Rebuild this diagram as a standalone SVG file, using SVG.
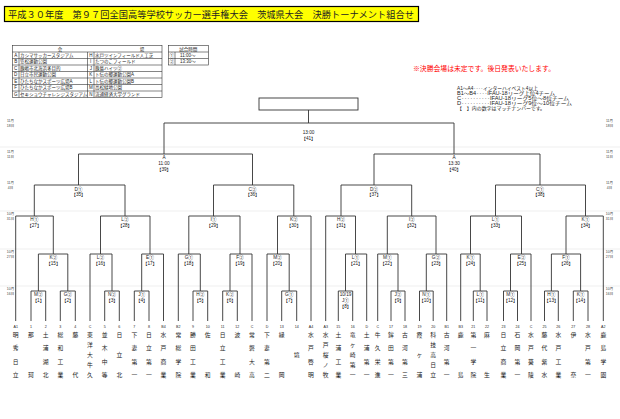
<svg xmlns="http://www.w3.org/2000/svg" width="620" height="419" viewBox="0 0 620 419">
<style>
text{font-family:'Liberation Sans','Noto Sans CJK JP',sans-serif;fill:#222}
.ln{stroke:#333;stroke-width:0.9;fill:none}
.grid{stroke:#e4e4e4;stroke-width:0.6}
.tb{stroke:#333;stroke-width:0.6;fill:none}
.lbl{font-size:4.7px;text-anchor:middle}
.date{font-size:3.5px;text-anchor:middle;fill:#444}
.code{font-size:3.6px;text-anchor:middle}
.nm{font-family:'Noto Sans CJK JP',sans-serif;font-size:5.8px;text-anchor:middle}
.tt{font-size:4.5px}
.tc{font-size:4.5px;text-anchor:middle}
.note{font-size:4.8px}
</style>

<g id="title">
<rect x="4.5" y="6.5" width="414" height="15" fill="#ffff00" stroke="#000" stroke-width="1.2"/>
<text x="8" y="17.6" font-size="9.3" textLength="406" lengthAdjust="spacingAndGlyphs" style="font-family:'Liberation Serif','Noto Sans CJK JP',serif">平成３０年度　第９７回全国高等学校サッカー選手権大会　茨城県大会　決勝トーナメント組合せ</text>
</g>

<g id="venue-table">
<rect class="tb" x="12.3" y="45.5" width="149.7" height="52"/>
<path class="tb" d="M12.3 52H162M12.3 58.5H162M12.3 65H162M12.3 71.5H162M12.3 78H162M12.3 84.5H162M12.3 91H162M19 52V97.5M87.5 52V97.5M94 52V97.5"/>
<text class="tc" x="60" y="50.6">会</text>
<text class="tc" x="142" y="50.6">場</text>
<text class="tc" x="15.65" y="56.9">A</text><text class="tt" x="20" y="56.9">カシマサッカースタジアム</text>
<text class="tc" x="15.65" y="63.4">B</text><text class="tt" x="20" y="63.4">笠松運動公園</text>
<text class="tc" x="15.65" y="69.9">C</text><text class="tt" x="20" y="69.9">鹿嶋市北海浜多目的</text>
<text class="tc" x="15.65" y="76.4">D</text><text class="tt" x="20" y="76.4">日立市民運動公園</text>
<text class="tc" x="15.65" y="82.9">E</text><text class="tt" x="20" y="82.9">ひたちなかスポーツ広場A</text>
<text class="tc" x="15.65" y="89.4">F</text><text class="tt" x="20" y="89.4">ひたちなかスポーツ広場B</text>
<text class="tc" x="15.65" y="95.9">G</text><text class="tt" x="20" y="95.9">セキショウチャレンジスタジアム</text>
<text class="tc" x="90.75" y="56.9">H</text><text class="tt" x="95" y="56.9">水戸ツインフィールド人工芝</text>
<text class="tc" x="90.75" y="63.4">I</text><text class="tt" x="95" y="63.4">たつのこフィールド</text>
<text class="tc" x="90.75" y="69.9">J</text><text class="tt" x="95" y="69.9">鹿島ハイツ②</text>
<text class="tc" x="90.75" y="76.4">K</text><text class="tt" x="95" y="76.4">卜伝の郷運動公園A</text>
<text class="tc" x="90.75" y="82.9">L</text><text class="tt" x="95" y="82.9">卜伝の郷運動公園B</text>
<text class="tc" x="90.75" y="89.4">M</text><text class="tt" x="95" y="89.4">高松緑地公園</text>
<text class="tc" x="90.75" y="95.9">N</text><text class="tt" x="95" y="95.9">流通経済大学グランド</text>
</g>

<g id="time-table">
<rect class="tb" x="168.3" y="45.5" width="40" height="19.5"/>
<path class="tb" d="M168.3 52H208.3M168.3 58.5H208.3M175 52V65"/>
<text class="tc" x="188.3" y="50.6">試合時間</text>
<text class="tc" x="171.65" y="56.9">①</text><text class="tt" x="180" y="56.9">11:00～</text>
<text class="tc" x="171.65" y="63.4">②</text><text class="tt" x="180" y="63.4">13:30～</text>
</g>

<g id="notes">
<text x="413" y="71.3" font-size="6.8" style="fill:#ff0000" textLength="142" lengthAdjust="spacingAndGlyphs">※決勝会場は未定です。後日発表いたします。</text>
<text class="note" x="457" y="90" textLength="81" lengthAdjust="spacingAndGlyphs">A1～A4‥‥インターハイベスト4以上</text>
<text class="note" x="457" y="95" textLength="98" lengthAdjust="spacingAndGlyphs">B1～B4‥‥IFAU-18リーグ上位4チーム</text>
<text class="note" x="457" y="100" textLength="112" lengthAdjust="spacingAndGlyphs">C‥‥‥‥‥IFAU-18リーグ5位～8位チーム</text>
<text class="note" x="457" y="105" textLength="115" lengthAdjust="spacingAndGlyphs">D‥‥‥‥‥IFAU-18リーグ9位～10位チーム</text>
<text class="note" x="457" y="110" textLength="88" lengthAdjust="spacingAndGlyphs">【　】内の数字はマッチナンバーです。</text>
</g>

<g id="round-grid">
<path class="grid" d="M0 147H620M0 211H620M0 249H620M0 286H620"/>
</g>

<g id="dates">
<text class="date" x="10.5" y="122">11月</text><text class="date" x="10.5" y="127">18日</text>
<text class="date" x="10.5" y="153">11月</text><text class="date" x="10.5" y="158">11日</text>
<text class="date" x="10.5" y="184">11月</text><text class="date" x="10.5" y="189">4日</text>
<text class="date" x="10.5" y="215">10月</text><text class="date" x="10.5" y="220">31日</text>
<text class="date" x="10.5" y="253">10月</text><text class="date" x="10.5" y="258">27日</text>
<text class="date" x="10.5" y="290">10月</text><text class="date" x="10.5" y="295">16日</text>
<text class="date" x="609.5" y="122">11月</text><text class="date" x="609.5" y="127">18日</text>
<text class="date" x="609.5" y="153">11月</text><text class="date" x="609.5" y="158">11日</text>
<text class="date" x="609.5" y="184">11月</text><text class="date" x="609.5" y="189">4日</text>
<text class="date" x="609.5" y="215">10月</text><text class="date" x="609.5" y="220">31日</text>
<text class="date" x="609.5" y="253">10月</text><text class="date" x="609.5" y="258">27日</text>
<text class="date" x="609.5" y="290">10月</text><text class="date" x="609.5" y="295">16日</text>
</g>

<g id="connectors">
<rect class="ln" x="259" y="98" width="99" height="12" style="fill:#fff"/>
<path class="ln" d="M31 321V291H45.7V321M60.3 321V291H75.3V321M104.7 321V291H119.3V321M134.3 321V291H149V321M193 321V291H207.7V321M222.7 321V291H237.3V321M281.7 321V291H296.7V321M338.3 321V291H352.7V321M391 321V291H405V321M419.5 321V291H433.2V321M473.3 321V291H487V321M503.5 321V291H517.5V321M544.5 321V291H558.3V321M573.3 321V291H588V321"/>
<path class="ln" d="M38.4 291V254H67.8V291M90 321V254H112V291M141.7 291V254H163.5V321M178.3 321V254H200.3V291M230 291V254H252V321M267 321V254H289.2V291M345.5 291V254H366.7V321M377.7 321V254H398V291M426.3 291V254H446.7V321M460.7 321V254H480.2V291M510.5 291V254H531V321M551.4 291V254H580.6V291"/>
<path class="ln" d="M15.7 321V216H53.3V254M100.5 254V216H150V254M188.8 254V216H240V254M277.5 254V216H311V321M325.7 321V216H355.5V254M387.3 254V216H436V254M470.5 254V216H521.5V254M566 254V216H603.3V321"/>
<path class="ln" d="M34.3 216V185H125V216M213.5 216V185H293.8V216M341 216V185H411.7V216M495.5 216V185H585.5V216"/>
<path class="ln" d="M78.5 185V154H252.5V185M374 185V154H540V185"/>
<path class="ln" d="M164 154V123H454V154M308.5 123V110"/>
</g>

<g id="m1" class="lbl"><text x="38.4" y="296.2">M②</text><text x="38.4" y="302.3">【1】</text></g>
<g id="m2" class="lbl"><text x="67.8" y="296.2">G②</text><text x="67.8" y="302.3">【2】</text></g>
<g id="m3" class="lbl"><text x="112" y="296.2">N②</text><text x="112" y="302.3">【3】</text></g>
<g id="m4" class="lbl"><text x="141.7" y="296.2">J①</text><text x="141.7" y="302.3">【4】</text></g>
<g id="m5" class="lbl"><text x="200.3" y="296.2">H②</text><text x="200.3" y="302.3">【5】</text></g>
<g id="m6" class="lbl"><text x="230" y="296.2">K②</text><text x="230" y="302.3">【6】</text></g>
<g id="m7" class="lbl"><text x="289.2" y="296.2">G①</text><text x="289.2" y="302.3">【7】</text></g>
<g id="m8" class="lbl"><text x="345.5" y="296">10/19</text><text x="345.5" y="301.5">J①</text><text x="345.5" y="308">【8】</text></g>
<g id="m9" class="lbl"><text x="398" y="296.2">J②</text><text x="398" y="302.3">【9】</text></g>
<g id="m10" class="lbl"><text x="426.3" y="296.2">N①</text><text x="426.3" y="302.3">【10】</text></g>
<g id="m11" class="lbl"><text x="480.2" y="296.2">L①</text><text x="480.2" y="302.3">【11】</text></g>
<g id="m12" class="lbl"><text x="510.5" y="296.2">M①</text><text x="510.5" y="302.3">【12】</text></g>
<g id="m13" class="lbl"><text x="551.4" y="296.2">H①</text><text x="551.4" y="302.3">【13】</text></g>
<g id="m14" class="lbl"><text x="580.6" y="296.2">K①</text><text x="580.6" y="302.3">【14】</text></g>

<g id="m15" class="lbl"><text x="53.3" y="259.2">K②</text><text x="53.3" y="265.3">【15】</text></g>
<g id="m16" class="lbl"><text x="100.5" y="259.2">L②</text><text x="100.5" y="265.3">【16】</text></g>
<g id="m17" class="lbl"><text x="150" y="259.2">E①</text><text x="150" y="265.3">【17】</text></g>
<g id="m18" class="lbl"><text x="188.8" y="259.2">G①</text><text x="188.8" y="265.3">【18】</text></g>
<g id="m19" class="lbl"><text x="240" y="259.2">F②</text><text x="240" y="265.3">【19】</text></g>
<g id="m20" class="lbl"><text x="277.5" y="259.2">M②</text><text x="277.5" y="265.3">【20】</text></g>
<g id="m21" class="lbl"><text x="355.5" y="259.2">L①</text><text x="355.5" y="265.3">【21】</text></g>
<g id="m22" class="lbl"><text x="387.3" y="259.2">M①</text><text x="387.3" y="265.3">【22】</text></g>
<g id="m23" class="lbl"><text x="436" y="259.2">G②</text><text x="436" y="265.3">【23】</text></g>
<g id="m24" class="lbl"><text x="470.5" y="259.2">K①</text><text x="470.5" y="265.3">【24】</text></g>
<g id="m25" class="lbl"><text x="521.5" y="259.2">E②</text><text x="521.5" y="265.3">【25】</text></g>
<g id="m26" class="lbl"><text x="566" y="259.2">F①</text><text x="566" y="265.3">【26】</text></g>

<g id="m27" class="lbl"><text x="34.3" y="221.2">H①</text><text x="34.3" y="227.3">【27】</text></g>
<g id="m28" class="lbl"><text x="125" y="221.2">L②</text><text x="125" y="227.3">【28】</text></g>
<g id="m29" class="lbl"><text x="213.5" y="221.2">I①</text><text x="213.5" y="227.3">【29】</text></g>
<g id="m30" class="lbl"><text x="293.8" y="221.2">K②</text><text x="293.8" y="227.3">【30】</text></g>
<g id="m31" class="lbl"><text x="341" y="221.2">H②</text><text x="341" y="227.3">【31】</text></g>
<g id="m32" class="lbl"><text x="411.7" y="221.2">I②</text><text x="411.7" y="227.3">【32】</text></g>
<g id="m33" class="lbl"><text x="495.5" y="221.2">L①</text><text x="495.5" y="227.3">【33】</text></g>
<g id="m34" class="lbl"><text x="585.5" y="221.2">K①</text><text x="585.5" y="227.3">【34】</text></g>

<g id="m35" class="lbl"><text x="78.5" y="190.5">D①</text><text x="78.5" y="196.3">【35】</text></g>
<g id="m36" class="lbl"><text x="252.5" y="190.5">C②</text><text x="252.5" y="196.3">【36】</text></g>
<g id="m37" class="lbl"><text x="374" y="190.5">D②</text><text x="374" y="196.3">【37】</text></g>
<g id="m38" class="lbl"><text x="540" y="190.5">C①</text><text x="540" y="196.3">【38】</text></g>

<g id="m39" class="lbl"><text x="164" y="158.8">A</text><text x="164" y="164.8">11:00</text><text x="164" y="170.8">【39】</text></g>
<g id="m40" class="lbl"><text x="454" y="158.8">A</text><text x="454" y="164.8">13:30</text><text x="454" y="170.8">【40】</text></g>
<g id="m41" class="lbl"><text x="308.5" y="133.5">13:00</text><text x="308.5" y="139.5">【41】</text></g>

<g id="teams">
<g class="code">
<text x="15.7" y="328">A1</text><text x="31" y="328">1</text><text x="45.7" y="328">2</text><text x="60.3" y="328">3</text><text x="75.3" y="328">4</text><text x="90" y="328">C</text><text x="104.7" y="328">5</text><text x="119.3" y="328">6</text><text x="134.3" y="328">7</text><text x="149" y="328">8</text><text x="163.5" y="328">B4</text><text x="178.3" y="328">B2</text><text x="193" y="328">9</text><text x="207.7" y="328">10</text><text x="222.7" y="328">11</text><text x="237.3" y="328">12</text><text x="252" y="328">C</text><text x="267" y="328">D</text><text x="281.7" y="328">13</text><text x="296.7" y="328">14</text><text x="311" y="328">A4</text>
<text x="325.7" y="328">A3</text><text x="338.3" y="328">15</text><text x="352.7" y="328">16</text><text x="366.7" y="328">D</text><text x="377.7" y="328">C</text><text x="391" y="328">17</text><text x="405" y="328">18</text><text x="419.5" y="328">19</text><text x="433.2" y="328">20</text><text x="446.7" y="328">B1</text><text x="460.7" y="328">B3</text><text x="473.3" y="328">21</text><text x="487" y="328">22</text><text x="503.5" y="328">23</text><text x="517.5" y="328">24</text><text x="531" y="328">C</text><text x="544.5" y="328">25</text><text x="558.3" y="328">26</text><text x="573.3" y="328">27</text><text x="588" y="328">28</text><text x="603.3" y="328">A2</text>
</g>
<g class="nm">
<text><tspan x="15.7" y="337.1">明</tspan><tspan x="15.7" y="350.4">秀</tspan><tspan x="15.7" y="363.8">日</tspan><tspan x="15.7" y="377.1">立</tspan></text>
<text><tspan x="31" y="337.1">那</tspan><tspan x="31" y="377.1">珂</tspan></text>
<text><tspan x="45.7" y="337.1">土</tspan><tspan x="45.7" y="350.4">浦</tspan><tspan x="45.7" y="363.8">湖</tspan><tspan x="45.7" y="377.1">北</tspan></text>
<text><tspan x="60.3" y="337.1">総</tspan><tspan x="60.3" y="350.4">和</tspan><tspan x="60.3" y="363.8">工</tspan><tspan x="60.3" y="377.1">業</tspan></text>
<text><tspan x="75.3" y="337.1">藤</tspan><tspan x="75.3" y="377.1">代</tspan></text>
<text><tspan x="90" y="337.1">東</tspan><tspan x="90" y="347.1">洋</tspan><tspan x="90" y="357.1">大</tspan><tspan x="90" y="367.1">牛</tspan><tspan x="90" y="377.1">久</tspan></text>
<text><tspan x="104.7" y="337.1">並</tspan><tspan x="104.7" y="350.4">木</tspan><tspan x="104.7" y="363.8">中</tspan><tspan x="104.7" y="377.1">等</tspan></text>
<text><tspan x="119.3" y="337.1">日</tspan><tspan x="119.3" y="357.1">立</tspan><tspan x="119.3" y="377.1">北</tspan></text>
<text><tspan x="134.3" y="337.1">下</tspan><tspan x="134.3" y="350.4">妻</tspan><tspan x="134.3" y="363.8">第</tspan><tspan x="134.3" y="377.1">一</tspan></text>
<text><tspan x="149" y="337.1">日</tspan><tspan x="149" y="350.4">立</tspan><tspan x="149" y="363.8">第</tspan><tspan x="149" y="377.1">一</tspan></text>
<text><tspan x="163.5" y="337.1">水</tspan><tspan x="163.5" y="350.4">戸</tspan><tspan x="163.5" y="363.8">商</tspan><tspan x="163.5" y="377.1">業</tspan></text>
<text><tspan x="178.3" y="337.1">常</tspan><tspan x="178.3" y="350.4">総</tspan><tspan x="178.3" y="363.8">学</tspan><tspan x="178.3" y="377.1">院</tspan></text>
<text><tspan x="193" y="337.1">勝</tspan><tspan x="193" y="350.4">田</tspan><tspan x="193" y="363.8">工</tspan><tspan x="193" y="377.1">業</tspan></text>
<text><tspan x="207.7" y="337.1">佐</tspan><tspan x="207.7" y="377.1">和</tspan></text>
<text><tspan x="222.7" y="337.1">日</tspan><tspan x="222.7" y="350.4">立</tspan><tspan x="222.7" y="363.8">工</tspan><tspan x="222.7" y="377.1">業</tspan></text>
<text><tspan x="237.3" y="337.1">波</tspan><tspan x="237.3" y="377.1">崎</tspan></text>
<text><tspan x="252" y="337.1">常</tspan><tspan x="252" y="350.4">磐</tspan><tspan x="252" y="363.8">大</tspan><tspan x="252" y="377.1">高</tspan></text>
<text><tspan x="267" y="337.1">下</tspan><tspan x="267" y="350.4">妻</tspan><tspan x="267" y="363.8">第</tspan><tspan x="267" y="377.1">二</tspan></text>
<text><tspan x="281.7" y="337.1">緑</tspan><tspan x="281.7" y="377.1">岡</tspan></text>
<text><tspan x="296.7" y="357.1">境</tspan></text>
<text><tspan x="311" y="337.1">水</tspan><tspan x="311" y="350.4">戸</tspan><tspan x="311" y="363.8">啓</tspan><tspan x="311" y="377.1">明</tspan></text>
<text><tspan x="325.7" y="337.1">水</tspan><tspan x="325.7" y="347.1">戸</tspan><tspan x="325.7" y="357.1">桜</tspan><tspan x="325.7" y="367.1">ノ</tspan><tspan x="325.7" y="377.1">牧</tspan></text>
<text><tspan x="338.3" y="337.1">土</tspan><tspan x="338.3" y="350.4">浦</tspan><tspan x="338.3" y="363.8">工</tspan><tspan x="338.3" y="377.1">業</tspan></text>
<text><tspan x="352.7" y="337.1">竜</tspan><tspan x="352.7" y="347.1">ヶ</tspan><tspan x="352.7" y="357.1">崎</tspan><tspan x="352.7" y="367.1">第</tspan><tspan x="352.7" y="377.1">一</tspan></text>
<text><tspan x="366.7" y="337.1">土</tspan><tspan x="366.7" y="350.4">浦</tspan><tspan x="366.7" y="363.8">第</tspan><tspan x="366.7" y="377.1">一</tspan></text>
<text><tspan x="377.7" y="337.1">牛</tspan><tspan x="377.7" y="350.4">久</tspan><tspan x="377.7" y="363.8">栄</tspan><tspan x="377.7" y="377.1">進</tspan></text>
<text><tspan x="391" y="337.1">鉾</tspan><tspan x="391" y="350.4">田</tspan><tspan x="391" y="363.8">第</tspan><tspan x="391" y="377.1">一</tspan></text>
<text><tspan x="405" y="337.1">古</tspan><tspan x="405" y="350.4">河</tspan><tspan x="405" y="363.8">第</tspan><tspan x="405" y="377.1">三</tspan></text>
<text><tspan x="419.5" y="337.1">霞</tspan><tspan x="419.5" y="357.1">ヶ</tspan><tspan x="419.5" y="377.1">浦</tspan></text>
<text><tspan x="433.2" y="337.1">科</tspan><tspan x="433.2" y="347.1">技</tspan><tspan x="433.2" y="357.1">高</tspan><tspan x="433.2" y="367.1">日</tspan><tspan x="433.2" y="377.1">立</tspan></text>
<text><tspan x="446.7" y="337.1">古</tspan><tspan x="446.7" y="350.4">河</tspan><tspan x="446.7" y="363.8">第</tspan><tspan x="446.7" y="377.1">一</tspan></text>
<text><tspan x="460.7" y="337.1">鹿</tspan><tspan x="460.7" y="377.1">島</tspan></text>
<text><tspan x="473.3" y="337.1">第</tspan><tspan x="473.3" y="350.4">一</tspan><tspan x="473.3" y="363.8">学</tspan><tspan x="473.3" y="377.1">院</tspan></text>
<text><tspan x="487" y="337.1">麻</tspan><tspan x="487" y="377.1">生</tspan></text>
<text><tspan x="503.5" y="337.1">日</tspan><tspan x="503.5" y="350.4">立</tspan><tspan x="503.5" y="363.8">商</tspan><tspan x="503.5" y="377.1">業</tspan></text>
<text><tspan x="517.5" y="337.1">石</tspan><tspan x="517.5" y="350.4">岡</tspan><tspan x="517.5" y="363.8">第</tspan><tspan x="517.5" y="377.1">一</tspan></text>
<text><tspan x="531" y="337.1">水</tspan><tspan x="531" y="350.4">戸</tspan><tspan x="531" y="363.8">葵</tspan><tspan x="531" y="377.1">陵</tspan></text>
<text><tspan x="544.5" y="337.1">藤</tspan><tspan x="544.5" y="350.4">代</tspan><tspan x="544.5" y="363.8">紫</tspan><tspan x="544.5" y="377.1">水</tspan></text>
<text><tspan x="558.3" y="337.1">水</tspan><tspan x="558.3" y="350.4">戸</tspan><tspan x="558.3" y="363.8">工</tspan><tspan x="558.3" y="377.1">業</tspan></text>
<text><tspan x="573.3" y="337.1">伊</tspan><tspan x="573.3" y="377.1">奈</tspan></text>
<text><tspan x="588" y="337.1">水</tspan><tspan x="588" y="350.4">戸</tspan><tspan x="588" y="363.8">第</tspan><tspan x="588" y="377.1">一</tspan></text>
<text><tspan x="603.3" y="337.1">鹿</tspan><tspan x="603.3" y="350.4">島</tspan><tspan x="603.3" y="363.8">学</tspan><tspan x="603.3" y="377.1">園</tspan></text>
</g>
</g>
</svg>
